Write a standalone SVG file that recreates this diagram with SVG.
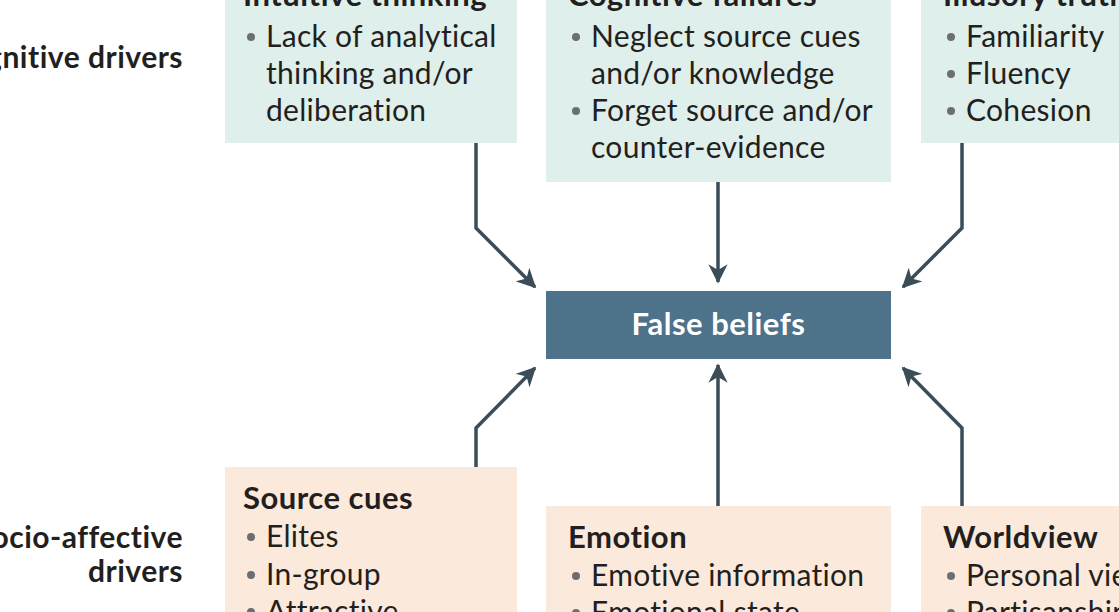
<svg xmlns="http://www.w3.org/2000/svg" width="1119" height="612" viewBox="0 0 1119 612">
<style>
.cog{fill:#dfefeb}
.soc{fill:#fbe9db}
.t{font-family:Lato,"Open Sans",sans-serif;font-size:30px;letter-spacing:0.3px;fill:#231f20;font-variant-ligatures:none}
.h{font-family:Lato,"Open Sans",sans-serif;font-size:31px;letter-spacing:0.5px;font-weight:bold;fill:#231f20;font-variant-ligatures:none}
.side{font-family:Lato,"Open Sans",sans-serif;font-size:30px;letter-spacing:0.5px;font-weight:bold;fill:#231f20;text-anchor:end;font-variant-ligatures:none}
.b{fill:#6d6e71}
.c{fill:none;stroke:#3b4d58;stroke-width:3.5}
</style>
<defs>
<marker id="ah" viewBox="0 0 12 12" refX="11" refY="6" markerWidth="5.5" markerHeight="5.5" markerUnits="strokeWidth" orient="auto">
<path d="M0,0 L12,6 L0,12 L3.5,6 z" fill="#3b4d58"/>
</marker>
</defs>
<rect width="1119" height="612" fill="#fff"/>
<text class="side" x="183" y="68">Cognitive drivers</text>
<text class="side" x="183" y="548">Socio-affective</text>
<text class="side" x="183" y="582">drivers</text>
<g id="intuitive">
<rect class="cog" x="225" y="-20" width="292" height="163"/>
<text class="h" x="243" y="6">Intuitive thinking</text>
<circle class="b" cx="251" cy="37" r="4"/>
<text class="t" x="266" y="47">Lack of analytical</text>
<text class="t" x="266" y="84">thinking and/or</text>
<text class="t" x="266" y="121">deliberation</text>
</g>
<g id="cognitive">
<rect class="cog" x="546" y="-20" width="345" height="202"/>
<text class="h" x="568" y="6">Cognitive failures</text>
<circle class="b" cx="576" cy="37" r="4"/>
<text class="t" x="591" y="47">Neglect source cues</text>
<text class="t" x="591" y="84">and/or knowledge</text>
<circle class="b" cx="576" cy="111" r="4"/>
<text class="t" x="591" y="121">Forget source and/or</text>
<text class="t" x="591" y="158">counter-evidence</text>
</g>
<g id="illusory">
<rect class="cog" x="921" y="-20" width="220" height="163"/>
<text class="h" x="943" y="6">Illusory truth</text>
<circle class="b" cx="951" cy="37" r="4"/>
<text class="t" x="966" y="47">Familiarity</text>
<circle class="b" cx="951" cy="74" r="4"/>
<text class="t" x="966" y="84">Fluency</text>
<circle class="b" cx="951" cy="111" r="4"/>
<text class="t" x="966" y="121">Cohesion</text>
</g>
<g id="false-beliefs">
<rect x="546" y="291" width="345" height="68" fill="#4f728b"/>
<text x="718.5" y="335" text-anchor="middle" font-family="Lato,'Open Sans',sans-serif" font-size="31" letter-spacing="0.5" font-weight="bold" fill="#fff">False beliefs</text>
</g>
<g id="source">
<rect class="soc" x="225" y="467" width="292" height="170"/>
<text class="h" x="243" y="509">Source cues</text>
<circle class="b" cx="251" cy="537" r="4"/>
<text class="t" x="266" y="547">Elites</text>
<circle class="b" cx="251" cy="575" r="4"/>
<text class="t" x="266" y="585">In-group</text>
<circle class="b" cx="251" cy="612" r="4"/>
<text class="t" x="266" y="622">Attractive</text>
</g>
<g id="emotion">
<rect class="soc" x="546" y="506" width="345" height="130"/>
<text class="h" x="568" y="548">Emotion</text>
<circle class="b" cx="576" cy="576" r="4"/>
<text class="t" x="591" y="586">Emotive information</text>
<circle class="b" cx="576" cy="613" r="4"/>
<text class="t" x="591" y="623">Emotional state</text>
</g>
<g id="worldview">
<rect class="soc" x="921" y="506" width="220" height="130"/>
<text class="h" x="943" y="548">Worldview</text>
<circle class="b" cx="951" cy="576" r="4"/>
<text class="t" x="966" y="586">Personal views</text>
<circle class="b" cx="951" cy="613" r="4"/>
<text class="t" x="966" y="623">Partisanship</text>
</g>
<g id="connectors">
<path class="c" d="M476,143 V228 L535,287" marker-end="url(#ah)"/>
<path class="c" d="M718,182 V282" marker-end="url(#ah)"/>
<path class="c" d="M962,143 V228 L903,287" marker-end="url(#ah)"/>
<path class="c" d="M476,467 V428 L535,368" marker-end="url(#ah)"/>
<path class="c" d="M718,506 V365" marker-end="url(#ah)"/>
<path class="c" d="M962,506 V428 L903,368" marker-end="url(#ah)"/>
</g>
</svg>
